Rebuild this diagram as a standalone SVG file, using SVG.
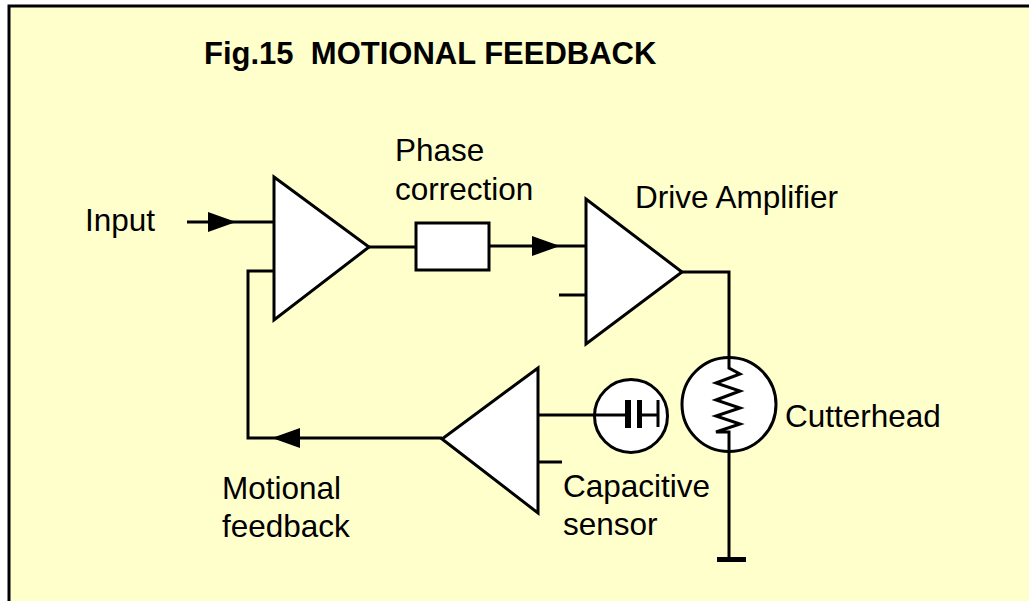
<svg xmlns="http://www.w3.org/2000/svg" width="1029" height="601" viewBox="0 0 1029 601">
  <style>
    .ln { fill: none; stroke: #000; stroke-width: 3; stroke-linejoin: miter; }
    .sym { fill: #fff; stroke: #000; stroke-width: 3; }
    .arrow { fill: #000; stroke: none; }
    .plate { fill: #000; stroke: none; }
    .lbl { font-family: "Liberation Sans", Arial, sans-serif; font-size: 31.5px; fill: #000; }
    .title { font-family: "Liberation Sans", Arial, sans-serif; font-size: 31px; font-weight: bold; fill: #000; }
  </style>
  <defs>
    <polygon id="arrowR" points="0,-10 28,0 0,10" />
  </defs>
  <rect x="0" y="0" width="1029" height="601" fill="#ffffff"/>
  <rect x="9" y="6" width="1030" height="610" fill="#ffffcc" stroke="#000" stroke-width="3"/>

  <text class="title" x="204" y="64" xml:space="preserve">Fig.15  MOTIONAL FEEDBACK</text>

  <g id="connectors">
    <!-- input -->
    <path class="ln" d="M187,222 H274"/>
    <use href="#arrowR" class="arrow" transform="translate(208,222)"/>
    <!-- amp1 to phase box -->
    <path class="ln" d="M369,247 H416"/>
    <!-- phase box to drive amp -->
    <path class="ln" d="M489,246 H586"/>
    <use href="#arrowR" class="arrow" transform="translate(532,246)"/>
    <!-- drive amp second input -->
    <path class="ln" d="M559,295 H586"/>
    <!-- drive amp output to cutterhead -->
    <path class="ln" d="M682,272 H729 V357"/>
    <!-- cutterhead to ground -->
    <path class="ln" d="M729,432 V558"/>
    <!-- capacitive sensor to sensor amp -->
    <path class="ln" d="M538,415 H626"/>
    <!-- sensor amp second input -->
    <path class="ln" d="M538,462 H562"/>
    <!-- feedback loop -->
    <path class="ln" d="M442,438 H248 V271 H274"/>
    <use href="#arrowR" class="arrow" transform="translate(300,438) scale(-1,1)"/>
  </g>

  <g id="input-amp">
    <polygon class="sym" points="274,177 274,320 369,247"/>
  </g>

  <g id="phase-correction">
    <rect class="sym" x="416" y="223" width="73" height="47"/>
  </g>

  <g id="drive-amp">
    <polygon class="sym" points="586,199 586,344 682,272"/>
  </g>

  <g id="cutterhead">
    <circle class="sym" cx="729" cy="404.5" r="47"/>
    <polyline class="ln" points="729,357 729,368 740,374 716,383 740,391 716,400 740,408 716,416 740,424 716,432 729,432 729,452"/>
  </g>

  <g id="ground">
    <rect x="717" y="557" width="29" height="5" fill="#000"/>
  </g>

  <g id="sensor-amp">
    <polygon class="sym" points="538,368 538,513 442,439"/>
  </g>

  <g id="capacitive-sensor">
    <circle class="sym" cx="631" cy="416" r="36.5"/>
    <path class="ln" d="M594,415 H626"/>
    <rect class="plate" x="625" y="400" width="6" height="28"/>
    <rect class="plate" x="637" y="400" width="5" height="28"/>
    <path class="ln" d="M642,415 H658 M658,400 V427" stroke-width="2.5"/>
  </g>

  <g id="labels">
    <text class="lbl" x="85" y="231">Input</text>
    <text class="lbl" x="395" y="161">Phase</text>
    <text class="lbl" x="395" y="200">correction</text>
    <text class="lbl" x="635" y="208">Drive Amplifier</text>
    <text class="lbl" x="785" y="427">Cutterhead</text>
    <text class="lbl" x="222" y="499">Motional</text>
    <text class="lbl" x="222" y="537">feedback</text>
    <text class="lbl" x="563" y="497">Capacitive</text>
    <text class="lbl" x="563" y="535">sensor</text>
  </g>
</svg>
